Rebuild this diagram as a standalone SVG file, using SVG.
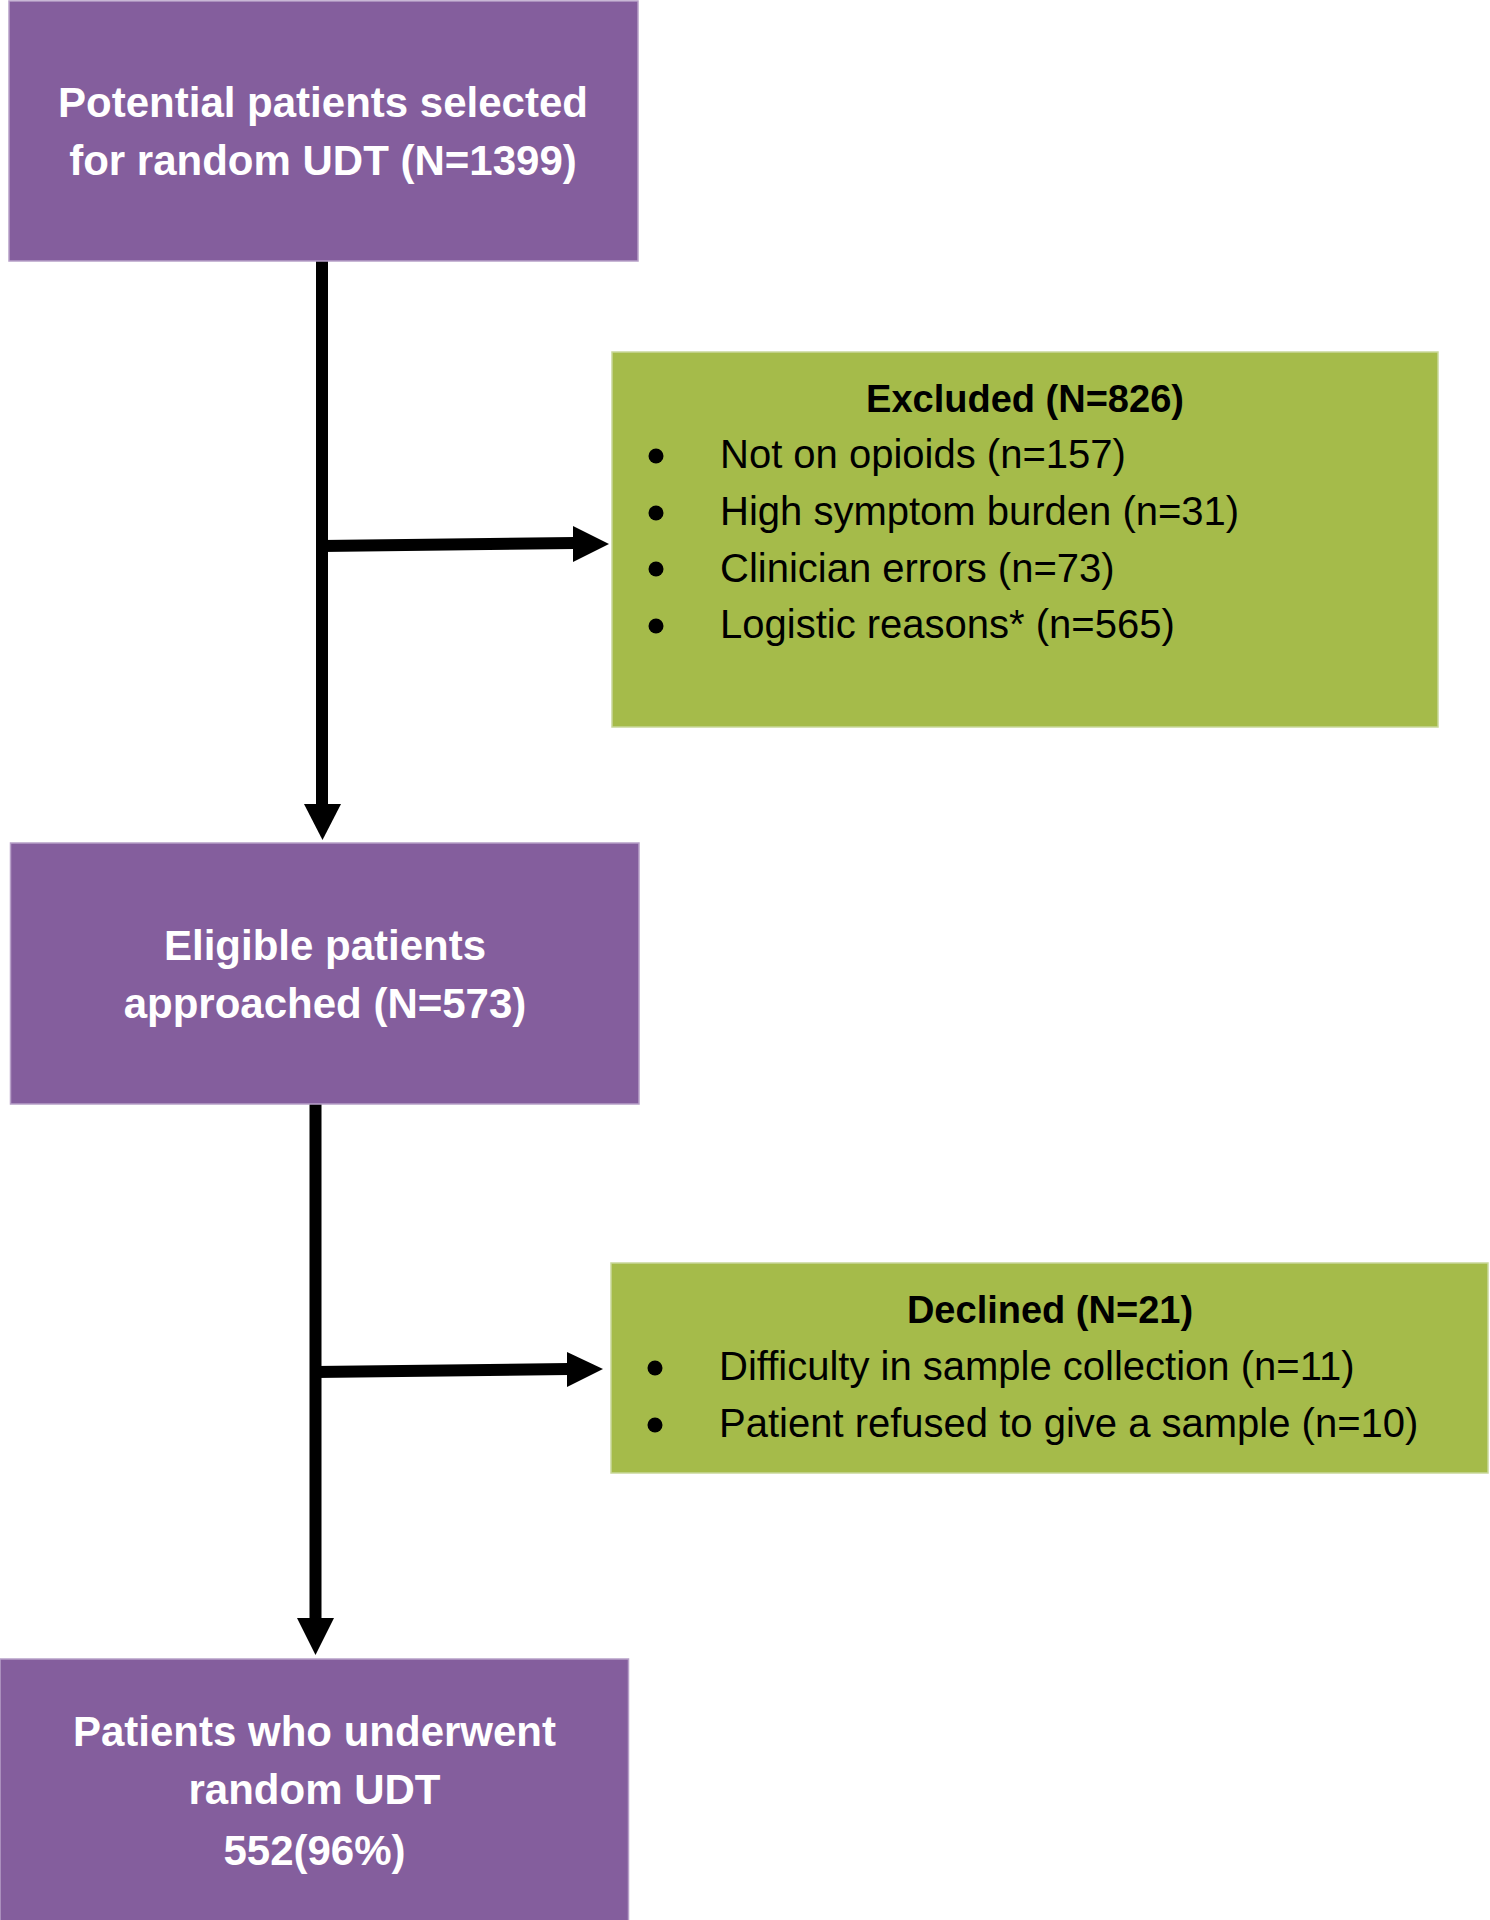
<svg xmlns="http://www.w3.org/2000/svg" width="1490" height="1920" viewBox="0 0 1490 1920">
<style>
.purple{fill:#845E9D;stroke:#B7A0C8;stroke-width:1.5}
.green{fill:#A5BB4A;stroke:#C9D89A;stroke-width:1.5}
.pt{font-family:"Liberation Sans",Arial,sans-serif;font-weight:bold;font-size:42px;fill:#FFFFFF;text-anchor:middle}
.gt{font-family:"Liberation Sans",Arial,sans-serif;font-weight:bold;font-size:38px;fill:#000000;text-anchor:middle}
.it{font-family:"Liberation Sans",Arial,sans-serif;font-size:40px;fill:#000000}
.ln{stroke:#000000;stroke-width:12;fill:none}
.bul{fill:#000000}
</style>
<rect width="1490" height="1920" fill="#FFFFFF"/>
<g id="connectors">
<line class="ln" x1="322" y1="260" x2="322" y2="806"/>
<polygon points="304,804 341,804 322.5,840" fill="#000"/>
<line class="ln" x1="322" y1="546" x2="575" y2="543"/>
<polygon points="573,526 609,544 573,562" fill="#000"/>
<line class="ln" x1="315.5" y1="1104" x2="315.5" y2="1620"/>
<polygon points="297,1618 334,1618 315.5,1655" fill="#000"/>
<line class="ln" x1="315.5" y1="1372" x2="569" y2="1369"/>
<polygon points="567,1352 603,1369 567,1387" fill="#000"/>
</g>
<g id="node-potential">
<rect class="purple" x="9" y="1" width="629" height="260"/>
<text class="pt" x="323" y="117">Potential patients selected</text>
<text class="pt" x="323" y="175">for random UDT (N=1399)</text>
</g>
<g id="node-excluded">
<rect class="green" x="612" y="352" width="826" height="375"/>
<text class="gt" x="1025" y="412">Excluded (N=826)</text>
<circle class="bul" cx="656" cy="456" r="7.5"/>
<circle class="bul" cx="656" cy="513" r="7.5"/>
<circle class="bul" cx="656" cy="569" r="7.5"/>
<circle class="bul" cx="656" cy="626" r="7.5"/>
<text class="it" x="720" y="468">Not on opioids (n=157)</text>
<text class="it" x="720" y="525">High symptom burden (n=31)</text>
<text class="it" x="720" y="582">Clinician errors (n=73)</text>
<text class="it" x="720" y="638">Logistic reasons* (n=565)</text>
</g>
<g id="node-eligible">
<rect class="purple" x="10.5" y="843" width="628.5" height="261"/>
<text class="pt" x="325" y="960">Eligible patients</text>
<text class="pt" x="325" y="1018">approached (N=573)</text>
</g>
<g id="node-declined">
<rect class="green" x="611" y="1263" width="877" height="210"/>
<text class="gt" x="1050" y="1323">Declined (N=21)</text>
<circle class="bul" cx="655" cy="1368" r="7.5"/>
<circle class="bul" cx="655" cy="1425" r="7.5"/>
<text class="it" x="719" y="1380">Difficulty in sample collection (n=11)</text>
<text class="it" x="719" y="1437">Patient refused to give a sample (n=10)</text>
</g>
<g id="node-underwent">
<rect class="purple" x="0" y="1659" width="628.5" height="262"/>
<text class="pt" x="314.5" y="1746">Patients who underwent</text>
<text class="pt" x="314.5" y="1804">random UDT</text>
<text class="pt" x="314.5" y="1865">552(96%)</text>
</g>
</svg>
